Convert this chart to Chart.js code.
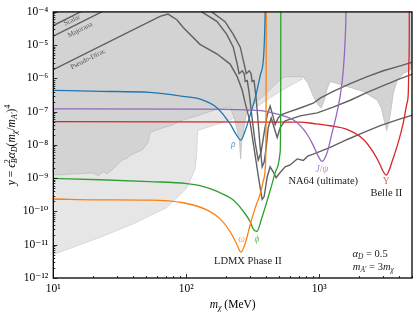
<!DOCTYPE html>
<html>
<head>
<meta charset="utf-8">
<script src="https://cdn.jsdelivr.net/npm/chart.js@4.4.1/dist/chart.umd.min.js"></script>
<style>
  html, body { margin: 0; padding: 0; background: #fff; }
  #wrap { width: 416px; height: 315px; position: relative; }
</style>
</head>
<body>
<div id="wrap"><canvas id="resChart"></canvas></div>
<script>
// tick values and labels
const xTicks = [10, 100, 1000];
const xTickLabels = ['10¹', '10²', '10³'];
const yTicks = [1e-12, 1e-11, 1e-10, 1e-9, 1e-8, 1e-7, 1e-6, 1e-5, 1e-4];
const yTickLabels = ['10⁻¹²', '10⁻¹¹', '10⁻¹⁰', '10⁻⁹', '10⁻⁸', '10⁻⁷', '10⁻⁶', '10⁻⁵', '10⁻⁴'];

// shaded regions: lower edge [m_chi (MeV), y]
const lightEdge = [[10, 5.1e-12], [22.5, 1.67e-11], [40, 4.25e-11], [71, 1.29e-10], [101, 5.0e-10],
  [117, 1.95e-9], [120, 6.0e-9], [122, 2.7e-8], [214, 5.7e-8], [303, 1.05e-7], [393, 2.07e-7],
  [509, 4.1e-7], [759, 9.9e-7]];
const darkEdge = [[10, 1.24e-9], [19.9, 1.45e-9], [21.7, 1.19e-9], [23.7, 1.56e-9], [25.4, 1.36e-9],
  [27.6, 1.78e-9], [30.2, 2.5e-9], [32.9, 3.5e-9], [35.9, 4.0e-9], [37.8, 4.9e-9], [42.7, 6.05e-9],
  [47.3, 7.4e-9], [51.6, 1.19e-8], [53.4, 2.35e-8], [60.4, 2.9e-8], [75.7, 3.8e-8], [95, 5.7e-8],
  [127, 8.0e-8], [171, 1.2e-7], [214, 1.38e-7], [230, 6.5e-8], [242, 2.7e-8], [252, 1.19e-8],
  [257, 3.76e-9], [261, 1.19e-8], [270, 2.7e-8], [283, 8.0e-8], [303, 1.38e-7], [393, 3.33e-7],
  [509, 9.2e-7], [555, 1.13e-6], [759, 1.13e-6], [826, 7.0e-7], [904, 2.9e-7], [985, 1.58e-7],
  [1037, 1.29e-7], [1094, 2.21e-7], [1151, 5.0e-7], [1213, 8.1e-7], [1629, 5.7e-7], [2149, 4.08e-7],
  [2739, 2.21e-7], [2938, 1.29e-7], [3093, 5.3e-8], [3228, 2.7e-8], [3373, 5.3e-8], [3491, 1.29e-7],
  [3614, 3.56e-7], [3873, 8.6e-7], [4300, 1.39e-6], [4852, 1.82e-6], [5113, 2.39e-6]];

// thermal targets (grey)
const scalarTarget = [[10, 3.9e-5], [30, 3.5e-4], [115, 2.5e-4], [131, 1e-4], [170, 5.2e-5], [202, 2.1e-5],
  [226, 8.7e-6], [242, 2.7e-6], [250, 1.39e-6], [264, 1.7e-6], [273, 1.39e-6], [278, 8.1e-7], [288, 8.6e-7],
  [298, 3.56e-7], [313, 6.5e-8], [330, 1.19e-8], [348, 3.5e-9], [366, 6.05e-9], [386, 2.35e-8], [407, 8.0e-8],
  [428, 1.47e-7], [443, 9.2e-8], [467, 4.06e-8], [492, 6.5e-8], [518, 8.0e-8], [565, 9.2e-8], [721, 1.29e-7],
  [904, 1.8e-7], [1019, 2.54e-7], [1277, 4.08e-7], [1715, 7.0e-7], [2303, 1.13e-6], [3040, 1.7e-6],
  [4080, 2.39e-6], [5113, 3.13e-6]];
const majoranaTarget = [[10, 1.87e-5], [40, 3.0e-4], [135, 2.5e-4], [156, 1e-4], [196, 5.1e-5], [226, 2.1e-5],
  [255, 8.7e-6], [273, 2.7e-6], [283, 1.39e-6], [298, 1.7e-6], [308, 1.39e-6], [313, 8.1e-7], [324, 8.6e-7],
  [336, 2.54e-7], [348, 4.64e-8], [360, 8.5e-9], [373, 2.18e-9], [386, 3.07e-9], [400, 8.5e-9], [414, 3.3e-8],
  [436, 6.5e-8], [459, 3.3e-8], [484, 1.67e-8], [509, 3.3e-8], [555, 5.3e-8], [721, 7.5e-8], [969, 9.2e-8],
  [1277, 1.38e-7], [1715, 2.21e-7], [2303, 3.81e-7], [3040, 6.1e-7], [4080, 9.9e-7], [5113, 1.39e-6]];
const pseudoDiracTarget = [[10, 1.85e-6], [63.5, 7.3e-5], [73, 8.6e-5], [85, 5.8e-5], [95, 3.4e-5],
  [127, 1.06e-5], [171, 5.4e-6], [214, 2.7e-6], [242, 1.13e-6], [264, 4.4e-7], [278, 1.8e-7], [293, 8.0e-8],
  [303, 4.6e-8], [319, 1.19e-8], [336, 3.1e-9], [354, 7.9e-10], [373, 2.3e-10], [386, 2.8e-10], [407, 1.11e-9],
  [428, 2.2e-9], [451, 1.56e-9], [475, 1.04e-9], [500, 1.36e-9], [555, 2.2e-9], [605, 2.5e-9], [684, 3.8e-9],
  [760, 3.4e-9], [820, 4.6e-9], [904, 5.3e-9], [1213, 8.5e-9], [1629, 1.46e-8], [2149, 2.35e-8],
  [2884, 3.8e-8], [3873, 5.7e-8], [5113, 8.0e-8]];

// resonance projections (coloured)
const rhoCurve = [[10, 4.4e-7], [22.5, 4.1e-7], [53, 3.8e-7], [95, 2.9e-7], [127, 2.4e-7], [171, 1.3e-7],
  [214, 4.3e-8], [238, 2.05e-8], [258, 1.4e-8], [278, 2.7e-8], [303, 8.0e-8], [330, 2.5e-7], [360, 1.2e-6],
  [381, 3.8e-6], [389, 2.1e-5], [393, 1e-4], [397, 1e-3]];
const omegaCurve = [[10, 2.37e-10], [22.5, 2.24e-10], [53, 2.2e-10], [95, 1.83e-10], [144, 1.1e-10],
  [180, 6.0e-11], [214, 2.5e-11], [241, 1.0e-11], [258, 6.0e-12], [278, 1.1e-11], [303, 4.0e-11],
  [330, 1.26e-10], [360, 3.3e-10], [379, 7.9e-10], [393, 1.9e-9], [397, 6.0e-9], [399, 1.8e-7],
  [400, 1e-4], [401, 1e-3]];
const phiCurve = [[10, 9.9e-10], [22.5, 9.0e-10], [53, 7.9e-10], [101, 6.9e-10], [127, 6.0e-10],
  [171, 4.0e-10], [226, 2.2e-10], [268, 1.03e-10], [303, 4.9e-11], [319, 3.0e-11], [340, 2.5e-11],
  [371, 6.5e-11], [405, 2.0e-10], [441, 6.4e-10], [481, 1.95e-9], [509, 6.0e-9], [514, 1.8e-7],
  [515, 1e-4], [516, 1e-3]];
const jpsiCurve = [[10, 1.22e-7], [127, 1.2e-7], [303, 1.12e-7], [407, 1.01e-7], [536, 7.5e-8], [638, 5.7e-8],
  [721, 3.8e-8], [814, 2.06e-8], [904, 9.7e-9], [985, 4.6e-9], [1050, 3.2e-9], [1145, 5.6e-9],
  [1248, 2.2e-8], [1361, 9.2e-8], [1443, 3.1e-7], [1519, 1.7e-6], [1573, 1.7e-5], [1592, 1e-4], [1600, 1e-3]];
const upsilonCurve = [[10, 5.0e-8], [721, 4.86e-8], [904, 4.42e-8], [1213, 3.78e-8], [1619, 2.94e-8],
  [2149, 1.49e-8], [2555, 6.05e-9], [2884, 2.5e-9], [3040, 1.56e-9], [3202, 1.24e-9], [3373, 1.78e-9],
  [3532, 3.07e-9], [3941, 1.19e-8], [4300, 4.64e-8], [4582, 1.8e-7], [4688, 3.56e-7], [4733, 2.7e-6],
  [4767, 1.7e-5], [4775, 1e-3]];

const SERIF = '"Liberation Serif", "DejaVu Serif", serif';
const toPts = arr => arr.map(([x, y]) => ({ x, y }));

function line(data, color, width, order, extra) {
    return Object.assign({
        data: toPts(data),
        borderColor: color,
        borderWidth: width,
        pointRadius: 0,
        fill: false,
        tension: 0,
        order: order
    }, extra || {});
}

// draws a run of text pieces, some italic / sub / sup
function drawRich(ctx, parts, x, y, size, align) {
    const fontOf = p => (p.i ? 'italic ' : '') + (p.s ? size * 0.7 : size) + 'px ' + SERIF;
    let w = 0;
    parts.forEach(p => {
        ctx.font = fontOf(p);
        p.w = ctx.measureText(p.t).width;
        if (!p.na) w += p.w;
    });
    let cx = align === 'center' ? x - w / 2 : (align === 'right' ? x - w : x);
    parts.forEach(p => {
        ctx.font = fontOf(p);
        const dy = p.s === 'sub' ? size * 0.28 : (p.s === 'sup' ? -size * 0.38 : 0);
        ctx.fillText(p.t, cx, y + dy);
        if (!p.na) cx += p.w;
    });
}

const decorations = {
    id: 'decorations',
    afterDraw(chart) {
        const { ctx, chartArea: a, scales: { x, y } } = chart;
        ctx.save();

        // inward ticks on bottom and left
        ctx.strokeStyle = '#000';
        ctx.lineWidth = 0.8;
        for (let d = 1; d <= 3; d++) {
            for (let k = 1; k <= 9; k++) {
                const v = k * Math.pow(10, d);
                if (v < x.min || v > x.max) continue;
                const px = Math.round(x.getPixelForValue(v)) + 0.5;
                ctx.beginPath();
                ctx.moveTo(px, a.bottom);
                ctx.lineTo(px, a.bottom - (k === 1 ? 4 : 2));
                ctx.stroke();
            }
        }
        for (let d = -12; d <= -4; d++) {
            for (let k = 1; k <= 9; k++) {
                const v = Number((k * Math.pow(10, d)).toPrecision(3));
                if (v < y.min * 0.999 || v > y.max * 1.001) continue;
                const py = Math.round(y.getPixelForValue(v)) + 0.5;
                ctx.beginPath();
                ctx.moveTo(a.left, py);
                ctx.lineTo(a.left + (k === 1 ? 4 : 2), py);
                ctx.stroke();
            }
        }

        // frame
        ctx.lineWidth = 1.3;
        ctx.strokeRect(a.left, a.top, a.right - a.left, a.bottom - a.top);

        const at = (m, v) => [x.getPixelForValue(m), y.getPixelForValue(v)];
        ctx.textBaseline = 'middle';
        ctx.textAlign = 'left';

        // thermal target names, along the lines
        const p0 = at(10, 1e-5), p1 = at(100, 1e-3);
        const ang = Math.atan2(p1[1] - p0[1], p1[0] - p0[0]);
        ctx.fillStyle = '#555';
        [['Scalar', 13.8, 5.6e-5], ['Majorana', 15.9, 2.9e-5], ['Pseudo-Dirac', 18.2, 3.8e-6]].forEach(([t, m, v]) => {
            const [px, py] = at(m, v);
            ctx.save();
            ctx.translate(px, py);
            ctx.rotate(ang);
            drawRich(ctx, [{ t: t }], 0, 0, 7, 'center');
            ctx.restore();
        });

        // resonance names
        const res = [
            [[{ t: 'ρ', i: 1 }], 226, 1.04e-8, 'rgba(31,119,180,0.75)'],
            [[{ t: 'ω', i: 1 }], 261, 1.39e-11, 'rgba(255,127,14,0.75)'],
            [[{ t: 'ϕ', i: 1 }], 340, 1.39e-11, 'rgba(44,160,44,0.75)'],
            [[{ t: 'J', i: 1 }, { t: '/' }, { t: 'ψ', i: 1 }], 1050, 1.78e-9, 'rgba(148,103,189,0.8)'],
            [[{ t: 'Υ' }], 3202, 8.2e-10, 'rgba(214,39,40,0.75)']
        ];
        res.forEach(([parts, m, v, c]) => {
            ctx.fillStyle = c;
            const [px, py] = at(m, v);
            drawRich(ctx, parts, px, py, 9.5, 'center');
        });

        // experiment names
        ctx.fillStyle = '#222';
        [['NA64 (ultimate)', 1074, 8.2e-10], ['Belle II', 3202, 3.5e-10], ['LDMX Phase II', 291, 3.2e-12]].forEach(([t, m, v]) => {
            const [px, py] = at(m, v);
            drawRich(ctx, [{ t: t }], px, py, 10.5, 'center');
        });
        let [px, py] = at(2420, 5.2e-12);
        drawRich(ctx, [{ t: 'α', i: 1 }, { t: 'D', s: 'sub', i: 1 }, { t: ' = 0.5' }], px, py, 10.5, 'center');
        [px, py] = at(2555, 2.1e-12);
        drawRich(ctx, [{ t: 'm', i: 1 }, { t: 'A′', s: 'sub', i: 1 }, { t: ' = 3' }, { t: 'm', i: 1 }, { t: 'χ', s: 'sub', i: 1 }], px, py, 10.5, 'center');

        // axis titles
        ctx.fillStyle = '#000';
        drawRich(ctx, [{ t: 'm', i: 1 }, { t: 'χ', s: 'sub', i: 1 }, { t: ' (MeV)' }], (a.left + a.right) / 2, 305, 11.5, 'center');
        ctx.save();
        ctx.translate(12, (a.top + a.bottom) / 2);
        ctx.rotate(-Math.PI / 2);
        drawRich(ctx, [
            { t: 'y', i: 1 }, { t: ' = ' }, { t: 'ϵ', i: 1 }, { t: '2', s: 'sup', na: 1 }, { t: 'B', s: 'sub', i: 1 },
            { t: 'α', i: 1 }, { t: 'D', s: 'sub', i: 1 }, { t: '(' }, { t: 'm', i: 1 }, { t: 'χ', s: 'sub', i: 1 },
            { t: '/' }, { t: 'm', i: 1 }, { t: 'A′', s: 'sub', i: 1 }, { t: ')' }, { t: '4', s: 'sup' }
        ], 0, 0, 11.5, 'center');
        ctx.restore();

        ctx.restore();
    }
};

new Chart(document.getElementById('resChart'), {
    type: 'line',
    data: {
        datasets: [
            line(lightEdge, '#cdcdcd', 0.7, 10, { fill: 'end', backgroundColor: '#e6e6e6' }),
            line(darkEdge, '#b9b9b9', 0.7, 9, { fill: 'end', backgroundColor: '#d3d3d3' }),
            line(scalarTarget, '#616161', 1.4, 5),
            line(majoranaTarget, '#616161', 1.4, 5),
            line(pseudoDiracTarget, '#616161', 1.4, 5),
            line(rhoCurve, '#1f77b4', 1.3, 1, { cubicInterpolationMode: 'monotone' }),
            line(omegaCurve, '#ff7f0e', 1.3, 1, { cubicInterpolationMode: 'monotone' }),
            line(phiCurve, '#2ca02c', 1.3, 1, { cubicInterpolationMode: 'monotone' }),
            line(jpsiCurve, '#9467bd', 1.3, 1, { cubicInterpolationMode: 'monotone' }),
            line(upsilonCurve, '#d62728', 1.3, 1, { cubicInterpolationMode: 'monotone' })
        ]
    },
    options: {
        responsive: true,
        maintainAspectRatio: false,
        animation: false,
        devicePixelRatio: 1,
        layout: { padding: { top: 7, right: 4, left: 0, bottom: 0 } },
        plugins: { legend: { display: false }, tooltip: { enabled: false } },
        scales: {
            x: {
                type: 'logarithmic',
                min: 10,
                max: 5000,
                grid: { display: false, drawTicks: false },
                border: { display: false },
                afterBuildTicks: s => { s.ticks = xTicks.map(v => ({ value: v })); },
                afterFit: s => { s.height = 37; },
                ticks: {
                    callback: (v, i) => xTickLabels[i],
                    font: { family: SERIF, size: 11.5 },
                    color: '#000',
                    padding: 4,
                    maxRotation: 0,
                    autoSkip: false
                }
            },
            y: {
                type: 'logarithmic',
                min: 1e-12,
                max: 1e-4,
                grid: { display: false, drawTicks: false },
                border: { display: false },
                afterBuildTicks: s => { s.ticks = yTicks.map(v => ({ value: v })); },
                afterFit: s => { s.width = 53.3; },
                ticks: {
                    callback: (v, i) => yTickLabels[i],
                    font: { family: SERIF, size: 11.5 },
                    color: '#000',
                    padding: 5,
                    autoSkip: false
                }
            }
        }
    },
    plugins: [decorations]
});
</script>
</body>
</html>
